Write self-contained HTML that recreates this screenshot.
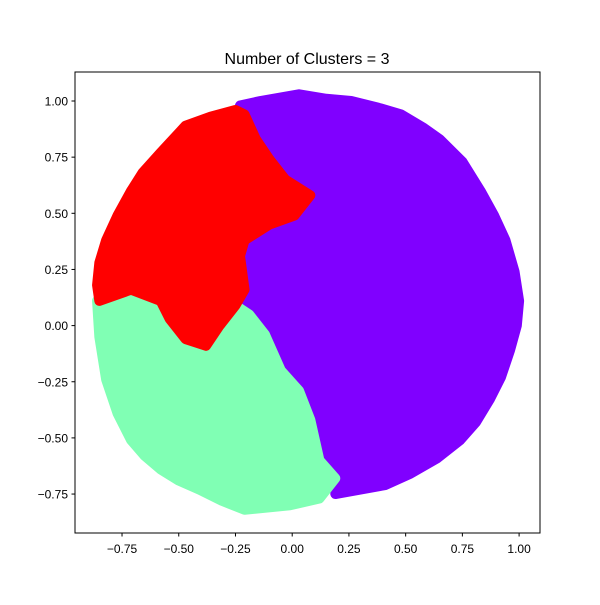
<!DOCTYPE html>
<html><head><meta charset="utf-8"><style>
body{margin:0;background:#fff}
svg{font-family:"Liberation Sans","DejaVu Sans",sans-serif}
</style></head><body>
<svg id="chart" width="600" height="600">
<text x="307" y="64" text-anchor="middle" font-size="16">Number of Clusters = 3</text>
<g id="marks"></g>
<rect x="75" y="72" width="465" height="461" fill="none" stroke="#000" stroke-width="1"/>
<g id="axes"></g>
</svg>
<script>
const xTicks=[-0.75,-0.5,-0.25,0,0.25,0.5,0.75,1.0];
const yTicks=[-0.75,-0.5,-0.25,0,0.25,0.5,0.75,1.0];
const xTickLabels=["−0.75","−0.50","−0.25","0.00","0.25","0.50","0.75","1.00"];
const yTickLabels=["−0.75","−0.50","−0.25","0.00","0.25","0.50","0.75","1.00"];
const clusterNames=["cluster-purple","cluster-green","cluster-red"];
const clusterColors=["#8000ff","#80ffb4","#ff0000"];
const purpleX=[-0.14,0.03,0.15,0.26,0.38,0.48,0.58,0.65,0.75,0.83,0.89,0.94,0.98,1.00,0.99,0.96,0.92,0.87,0.81,0.74,0.64,0.52,0.41,0.30,0.19,0.19,0.12,0.08,0.03,-0.05,-0.12,-0.19,-0.21,-0.23,-0.21,-0.10,0.01,0.08,-0.03,-0.10,-0.16,-0.21,-0.23];
const purpleY=[1.00,1.03,1.01,1.00,0.97,0.94,0.88,0.83,0.73,0.60,0.49,0.38,0.24,0.11,0.00,-0.11,-0.23,-0.33,-0.43,-0.51,-0.59,-0.66,-0.71,-0.73,-0.75,-0.68,-0.60,-0.42,-0.29,-0.20,-0.04,0.05,0.16,0.31,0.38,0.45,0.49,0.58,0.65,0.74,0.83,0.94,0.98];
const greenX=[-0.86,-0.85,-0.82,-0.77,-0.71,-0.65,-0.58,-0.50,-0.41,-0.31,-0.21,-0.01,0.12,0.19,0.12,0.08,0.03,-0.05,-0.12,-0.19,-0.25,-0.32,-0.38,-0.47,-0.54,-0.58,-0.71];
const greenY=[0.11,-0.05,-0.24,-0.39,-0.51,-0.58,-0.64,-0.69,-0.73,-0.78,-0.82,-0.80,-0.77,-0.68,-0.60,-0.42,-0.29,-0.20,-0.04,0.05,0.09,0.00,-0.09,-0.06,0.03,0.11,0.18];
const redX=[-0.25,-0.36,-0.47,-0.58,-0.66,-0.71,-0.77,-0.82,-0.85,-0.86,-0.85,-0.71,-0.58,-0.54,-0.47,-0.38,-0.32,-0.25,-0.21,-0.23,-0.21,-0.10,0.01,0.08,-0.03,-0.10,-0.16,-0.21];
const redY=[0.96,0.93,0.89,0.77,0.68,0.60,0.49,0.38,0.28,0.18,0.11,0.16,0.11,0.03,-0.06,-0.09,0.00,0.09,0.16,0.31,0.38,0.45,0.49,0.58,0.65,0.74,0.83,0.94];
const xs=v=>292.2+v*226.9;
const ys=v=>325.6-v*224.6;
const NS="http://www.w3.org/2000/svg";
const marks=document.getElementById('marks');
const axes=document.getElementById('axes');
const sets=[[purpleX,purpleY],[greenX,greenY],[redX,redY]];
sets.forEach((s,i)=>{
  const p=document.createElementNS(NS,'polygon');
  p.setAttribute('points',s[0].map((x,j)=>xs(x)+','+ys(s[1][j])).join(' '));
  p.setAttribute('fill',clusterColors[i]);
  p.setAttribute('stroke',clusterColors[i]);
  p.setAttribute('stroke-width','10');
  p.setAttribute('stroke-linejoin','round');
  
  
  marks.appendChild(p);
});
xTicks.forEach((t,i)=>{
  const x=xs(t);
  const l=document.createElementNS(NS,'line');
  l.setAttribute('x1',x);l.setAttribute('x2',x);l.setAttribute('y1',533);l.setAttribute('y2',536.5);l.setAttribute('stroke','#000');
  
  
  axes.appendChild(l);
  const tx=document.createElementNS(NS,'text');
  tx.setAttribute('x',x);tx.setAttribute('y',553);tx.setAttribute('text-anchor','middle');tx.setAttribute('font-size','12');
  tx.textContent=xTickLabels[i];
  
  
  axes.appendChild(tx);
});
yTicks.forEach((t,i)=>{
  const y=ys(t);
  const l=document.createElementNS(NS,'line');
  l.setAttribute('x1',71.5);l.setAttribute('x2',75);l.setAttribute('y1',y);l.setAttribute('y2',y);l.setAttribute('stroke','#000');
  
  
  axes.appendChild(l);
  const tx=document.createElementNS(NS,'text');
  tx.setAttribute('x',68);tx.setAttribute('y',y+4.5);tx.setAttribute('text-anchor','end');tx.setAttribute('font-size','12');
  tx.textContent=yTickLabels[i];
  
  
  axes.appendChild(tx);
});
</script>
</body></html>
